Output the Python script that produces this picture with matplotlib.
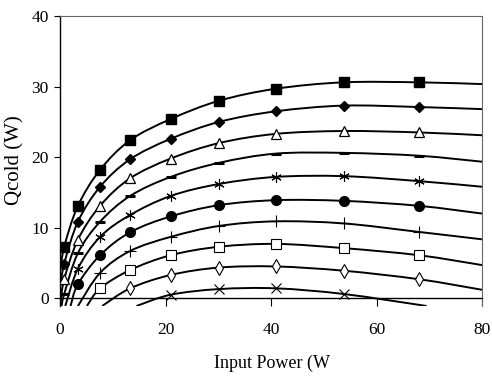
import numpy as np
import matplotlib
matplotlib.use("Agg")
import matplotlib.pyplot as plt
from matplotlib.path import Path
from matplotlib.patches import PathPatch

plt.rcParams['font.family'] = ['Liberation Serif', 'DejaVu Serif']

# curves: first and last point are the line ends, points in between carry markers
sq_x = [0.1, 0.8, 3.4, 7.6, 13.3, 21.0, 30.2, 41.0, 53.8, 68.0, 80]
sq_y = [4.0, 7.3, 13.1, 18.2, 22.4, 25.4, 28.0, 29.7, 30.6, 30.6, 30.35]
dm_x = [0.1, 0.8, 3.4, 7.6, 13.3, 21.0, 30.2, 41.0, 53.8, 68.0, 80]
dm_y = [1.8, 4.9, 10.85, 15.8, 19.7, 22.6, 25.0, 26.5, 27.3, 27.1, 26.8]
tr_x = [0.1, 0.8, 3.4, 7.6, 13.3, 21.0, 30.2, 41.0, 53.8, 68.0, 80]
tr_y = [-0.6, 2.7, 8.3, 13.1, 17.0, 19.8, 22.0, 23.3, 23.7, 23.5, 23.1]
da_x = [0.3, 0.8, 3.4, 7.6, 13.3, 21.0, 30.2, 41.0, 53.8, 68.0, 80]
da_y = [-1.1, 0.6, 6.4, 10.85, 14.5, 17.2, 19.2, 20.5, 20.6, 20.2, 19.35]
st_x = [1.0, 3.4, 7.6, 13.3, 21.0, 30.2, 41.0, 53.8, 68.0, 80]
st_y = [-1.1, 4.2, 8.7, 11.8, 14.5, 16.2, 17.2, 17.3, 16.6, 15.8]
ci_x = [2.0, 3.4, 7.6, 13.3, 21.0, 30.2, 41.0, 53.8, 68.0, 80]
ci_y = [-1.1, 2.0, 6.1, 9.35, 11.6, 13.2, 13.9, 13.8, 13.1, 12.0]
pl_x = [3.4, 7.6, 13.3, 21.0, 30.2, 41.0, 53.8, 68.0, 80]
pl_y = [-1.1, 3.6, 6.7, 8.7, 10.25, 10.9, 10.6, 9.4, 8.35]
os_x = [5.1, 7.6, 13.3, 21.0, 30.2, 41.0, 53.8, 68.0, 80]
os_y = [-1.1, 1.4, 4.0, 6.1, 7.3, 7.7, 7.1, 6.1, 4.7]
od_x = [8.0, 13.3, 21.0, 30.2, 41.0, 53.8, 68.0, 80]
od_y = [-1.1, 1.4, 3.3, 4.35, 4.5, 3.9, 2.7, 1.2]
xx_x = [14.5, 21.0, 30.2, 41.0, 53.8, 69.5]
xx_y = [-1.1, 0.5, 1.3, 1.4, 0.6, -1.1]

x_ticks = [0, 20, 40, 60, 80]
y_ticks = [0, 10, 20, 30, 40]


def smoothpath(xs, ys):
  pts = np.column_stack([xs, ys])
  n = len(pts)
  verts = [pts[0]]
  codes = [Path.MOVETO]
  for i in range(n - 1):
    p0 = pts[i - 1] if i > 0 else pts[i]
    p1, p2 = pts[i], pts[i + 1]
    p3 = pts[i + 2] if i + 2 < n else pts[i + 1]
    verts += [p1 + (p2 - p0) / 6, p2 - (p3 - p1) / 6, p2]
    codes += [Path.CURVE4] * 3
  return Path(verts, codes)


def drawseries(ax, xs, ys, marker, ms, face='k', mew=1.0):
  ax.add_patch(PathPatch(smoothpath(xs, ys), facecolor='none',
    edgecolor='k', lw=1.4, zorder=2))
  ax.plot(xs[1:-1], ys[1:-1], linestyle='none', marker=marker,
    markersize=ms, markerfacecolor=face, markeredgecolor='k',
    markeredgewidth=mew, zorder=3)


fig = plt.figure(figsize=(4.92, 3.79), dpi=100)
ax = fig.add_axes([60 / 492, 1 - 306 / 379, 422 / 492, 290 / 379])

drawseries(ax, sq_x, sq_y, 's', 7)
drawseries(ax, dm_x, dm_y, 'D', 5.5)
drawseries(ax, tr_x, tr_y, '^', 6.5, face='white', mew=0.9)
drawseries(ax, da_x, da_y, '_', 7, mew=2.2)
drawseries(ax, st_x, st_y, (6, 2, 0), 7.5, mew=0.8)
drawseries(ax, ci_x, ci_y, 'o', 7)
drawseries(ax, pl_x, pl_y, '+', 8, mew=0.8)
drawseries(ax, os_x, os_y, 's', 6.5, face='white', mew=0.8)
drawseries(ax, od_x, od_y, 'd', 7, face='white', mew=0.8)
drawseries(ax, xx_x, xx_y, 'x', 7, mew=0.8)

ax.set_xlim(0, 80)
ax.set_ylim(-1.1, 40)
ax.set_xticks(x_ticks)
ax.set_yticks(y_ticks)
ax.spines['bottom'].set_position(('data', 0))
for side in ['top', 'right']:
  ax.spines[side].set_linestyle((0, (1, 1)))
  ax.spines[side].set_color('#666666')
  ax.spines[side].set_linewidth(0.8)
ax.spines['left'].set_linewidth(1.0)
ax.spines['bottom'].set_linewidth(1.0)
ax.tick_params(axis='x', direction='out', length=6, width=0.8,
  pad=11, labelsize=12.5)
ax.tick_params(axis='y', direction='out', length=4, width=0.8,
  pad=4, labelsize=12.5)

ax.set_xlabel("Input Power (W", fontsize=13)
ax.set_ylabel("Qcold (W)", fontsize=15)
ax.xaxis.set_label_coords(0.502, -0.169)
ax.yaxis.set_label_coords(-0.083, 0.503)

fig.savefig("out.png", dpi=100)
